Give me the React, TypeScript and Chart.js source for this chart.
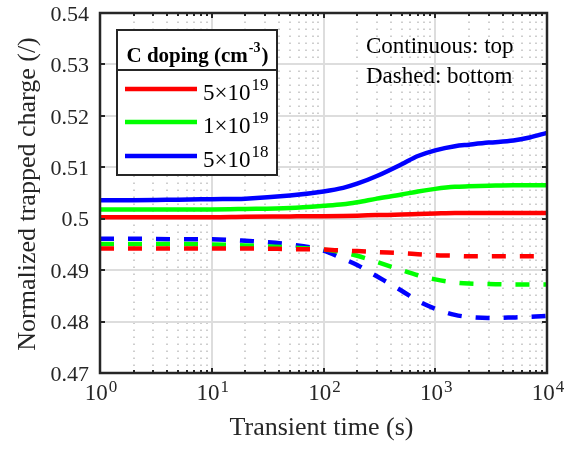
import React, { useEffect, useRef } from 'react';
import { Chart, registerables } from 'chart.js';

Chart.register(...registerables);

// ---------- DATA ----------
const times = [1, 2, 5, 10, 20, 50, 100, 150, 200, 300, 500, 700, 1000, 1500, 2000, 3000, 5000, 7000, 10000];

// Continuous (top)
const topRed = [0.5003, 0.5003, 0.5003, 0.5003, 0.5004, 0.50045, 0.5005, 0.50055, 0.5006, 0.5007, 0.5008, 0.5009, 0.501, 0.5011, 0.5011, 0.5011, 0.5011, 0.5011, 0.5011];
const topGreen = [0.5018, 0.5018, 0.5018, 0.5018, 0.5019, 0.5021, 0.5025, 0.5028, 0.5032, 0.5039, 0.5047, 0.5053, 0.5058, 0.5062, 0.5063, 0.5064, 0.5065, 0.5065, 0.5065];
const topBlue = [0.5036, 0.5036, 0.5037, 0.5038, 0.5039, 0.5045, 0.5053, 0.506, 0.5068, 0.5083, 0.5106, 0.5122, 0.5133, 0.5141, 0.5144, 0.5148, 0.5152, 0.5158, 0.5167];

// Dashed (bottom)
const botRed = [0.4942, 0.4942, 0.4942, 0.4942, 0.4942, 0.4941, 0.494, 0.4938, 0.4937, 0.4935, 0.4933, 0.4931, 0.4929, 0.4928, 0.4927, 0.4927, 0.4927, 0.4927, 0.4927];
const botGreen = [0.4951, 0.4951, 0.4951, 0.495, 0.4948, 0.4944, 0.494, 0.4934, 0.4928, 0.4916, 0.49, 0.489, 0.4882, 0.4876, 0.4874, 0.4873, 0.4872, 0.4872, 0.4872];
const botBlue = [0.4961, 0.4961, 0.496, 0.496, 0.4957, 0.495, 0.4938, 0.4922, 0.491, 0.4888, 0.486, 0.484, 0.4825, 0.4813, 0.4809, 0.4807, 0.4808, 0.4809, 0.4811];

const seriesColors = ['#ff0000', '#00ff00', '#0000ff'];
const legendMantissa = ['5', '1', '5'];
const legendExponent = ['19', '19', '18'];
const legendTitle = 'C doping (cm';
const legendTitleExp = '-3';
const noteLines = ['Continuous: top', 'Dashed: bottom'];

const xTickExponents = [0, 1, 2, 3, 4];
const yTickValues = [0.47, 0.48, 0.49, 0.5, 0.51, 0.52, 0.53, 0.54];
const yTickLabels = ['0.47', '0.48', '0.49', '0.5', '0.51', '0.52', '0.53', '0.54'];
const xAxisTitle = 'Transient time (s)';
const yAxisTitle = 'Normalized trapped charge (/)';

// ---------- STYLE ----------
const FONT = '"Liberation Serif", "Times New Roman", serif';
const AX = '#262626';

function seg(ctx: CanvasRenderingContext2D, x1: number, y1: number, x2: number, y2: number) {
  ctx.beginPath();
  ctx.moveTo(x1, y1);
  ctx.lineTo(x2, y2);
  ctx.stroke();
}

function drawSup(
  ctx: CanvasRenderingContext2D,
  base: string,
  sup: string,
  x: number,
  y: number,
  baseFont: string,
  supFont: string,
  rise: number,
  align: 'left' | 'center',
  tail?: string
) {
  ctx.font = baseFont;
  const wb = ctx.measureText(base).width;
  const wt = tail ? ctx.measureText(tail).width : 0;
  ctx.font = supFont;
  const ws = ctx.measureText(sup).width;
  const total = wb + ws + 1 + wt;
  const sx = align === 'center' ? x - total / 2 : x;
  ctx.textAlign = 'left';
  ctx.textBaseline = 'alphabetic';
  ctx.font = baseFont;
  ctx.fillText(base, sx, y);
  ctx.font = supFont;
  ctx.fillText(sup, sx + wb + 1, y - rise);
  if (tail) {
    ctx.font = baseFont;
    ctx.fillText(tail, sx + wb + ws + 2, y);
  }
}

const matlabPlugin = {
  id: 'matlabStyle',
  beforeDatasetsDraw(chart: any) {
    const { ctx, chartArea: a, scales } = chart;
    const x = scales.x;
    const y = scales.y;
    ctx.save();
    // minor vertical dotted grid
    ctx.strokeStyle = '#c2c2c2';
    ctx.lineWidth = 1.6;
    ctx.setLineDash([1.6, 5.4]);
    for (let k = 0; k < 4; k++) {
      for (let m = 2; m <= 9; m++) {
        const px = Math.round(x.getPixelForValue(m * Math.pow(10, k)));
        seg(ctx, px, a.bottom, px, a.top);
      }
    }
    ctx.setLineDash([]);
    // major grid
    ctx.strokeStyle = '#dddddd';
    ctx.lineWidth = 2;
    yTickValues.forEach((v) => {
      const py = Math.round(y.getPixelForValue(v));
      seg(ctx, a.left, py, a.right, py);
    });
    xTickExponents.forEach((e) => {
      const px = Math.round(x.getPixelForValue(Math.pow(10, e)));
      seg(ctx, px, a.top, px, a.bottom);
    });
    ctx.restore();
  },
  afterDatasetsDraw(chart: any) {
    const { ctx, chartArea: a, scales } = chart;
    const x = scales.x;
    const y = scales.y;
    ctx.save();
    ctx.strokeStyle = AX;
    ctx.fillStyle = AX;
    ctx.lineWidth = 2;
    // ticks
    yTickValues.forEach((v) => {
      const py = Math.round(y.getPixelForValue(v));
      seg(ctx, a.left, py, a.left + 5, py);
      seg(ctx, a.right, py, a.right - 5, py);
    });
    for (let k = 0; k < 4; k++) {
      for (let m = 2; m <= 9; m++) {
        const px = Math.round(x.getPixelForValue(m * Math.pow(10, k)));
        seg(ctx, px, a.bottom, px, a.bottom - 3);
        seg(ctx, px, a.top, px, a.top + 3);
      }
    }
    xTickExponents.forEach((e) => {
      const px = Math.round(x.getPixelForValue(Math.pow(10, e)));
      seg(ctx, px, a.bottom, px, a.bottom - 5);
      seg(ctx, px, a.top, px, a.top + 5);
    });
    // box
    ctx.lineWidth = 2.5;
    ctx.strokeRect(a.left, a.top, a.right - a.left, a.bottom - a.top);

    // y tick labels
    ctx.font = `22px ${FONT}`;
    ctx.textAlign = 'right';
    ctx.textBaseline = 'middle';
    yTickValues.forEach((v, i) => {
      const py = y.getPixelForValue(v);
      ctx.fillText(yTickLabels[i], a.left - 11, py + 2);
    });
    // x tick labels
    xTickExponents.forEach((e) => {
      const px = x.getPixelForValue(Math.pow(10, e));
      drawSup(ctx, '10', String(e), px + 1, a.bottom + 27, `23px ${FONT}`, `17px ${FONT}`, 8, 'center');
    });
    // axis titles
    ctx.font = `26px ${FONT}`;
    ctx.textAlign = 'center';
    ctx.textBaseline = 'alphabetic';
    ctx.fillText(xAxisTitle, (a.left + a.right) / 2 - 2, a.bottom + 62);
    ctx.save();
    ctx.translate(35, (a.top + a.bottom) / 2 + 1);
    ctx.rotate(-Math.PI / 2);
    ctx.fillText(yAxisTitle, 0, 0);
    ctx.restore();
    ctx.restore();
  },
  afterDraw(chart: any) {
    const { ctx } = chart;
    ctx.save();
    // legend box
    const L = 117, T = 30, R = 277, B = 175;
    ctx.fillStyle = '#ffffff';
    ctx.fillRect(L, T, R - L, B - T);
    ctx.strokeStyle = AX;
    ctx.lineWidth = 2;
    ctx.strokeRect(L, T, R - L, B - T);
    seg(ctx, L, 70, R, 70);
    ctx.fillStyle = '#000000';
    drawSup(ctx, legendTitle, legendTitleExp, (L + R) / 2, 62, `bold 21px ${FONT}`, `bold 14px ${FONT}`, 10, 'center', ')');
    const ys = [89, 122, 156];
    ys.forEach((ly, i) => {
      ctx.strokeStyle = seriesColors[i];
      ctx.lineWidth = 4.5;
      seg(ctx, 125, ly, 197, ly);
      ctx.fillStyle = '#000000';
      drawSup(ctx, `${legendMantissa[i]}×10`, legendExponent[i], 203, ly + 11, `23px ${FONT}`, `17px ${FONT}`, 10, 'left');
    });
    // note
    ctx.fillStyle = '#000000';
    ctx.font = `23px ${FONT}`;
    ctx.textAlign = 'left';
    ctx.textBaseline = 'alphabetic';
    ctx.fillText(noteLines[0], 366, 53);
    ctx.fillText(noteLines[1], 366, 83);
    ctx.restore();
  },
};

function toPts(vals: number[]) {
  return times.map((t, i) => ({ x: t, y: vals[i] }));
}

export default function App() {
  const ref = useRef<HTMLCanvasElement | null>(null);
  useEffect(() => {
    if (!ref.current) return;
    const mk = (vals: number[], color: string, dashed: boolean) => ({
      data: toPts(vals),
      borderColor: color,
      backgroundColor: color,
      borderWidth: 4.5,
      pointRadius: 0,
      borderDash: dashed ? [14, 14] : [],
      cubicInterpolationMode: 'monotone' as const,
      fill: false,
    });
    const chart = new Chart(ref.current, {
      type: 'line',
      data: {
        datasets: [
          mk(topRed, seriesColors[0], false),
          mk(topGreen, seriesColors[1], false),
          mk(topBlue, seriesColors[2], false),
          mk(botRed, seriesColors[0], true),
          mk(botGreen, seriesColors[1], true),
          mk(botBlue, seriesColors[2], true),
        ],
      },
      options: {
        animation: false,
        responsive: false,
        devicePixelRatio: 1,
        layout: { padding: { top: 13, right: 25, left: 0, bottom: 0 } },
        plugins: { legend: { display: false }, tooltip: { enabled: false } },
        scales: {
          x: {
            type: 'logarithmic',
            min: 1,
            max: 10000,
            grid: { display: false },
            border: { display: false },
            ticks: { display: false },
            afterFit: (s: any) => {
              s.height = 81;
            },
          },
          y: {
            type: 'linear',
            min: 0.47,
            max: 0.54,
            grid: { display: false },
            border: { display: false },
            ticks: { display: false },
            afterFit: (s: any) => {
              s.width = 100;
            },
          },
        },
      },
      plugins: [matlabPlugin],
    });
    return () => chart.destroy();
  }, []);
  return (
    <div style={{ position: 'absolute', left: 0, top: 0, width: 572, height: 454, background: '#fff' }}>
      <canvas ref={ref} width={572} height={454} style={{ width: 572, height: 454 }} />
    </div>
  );
}
